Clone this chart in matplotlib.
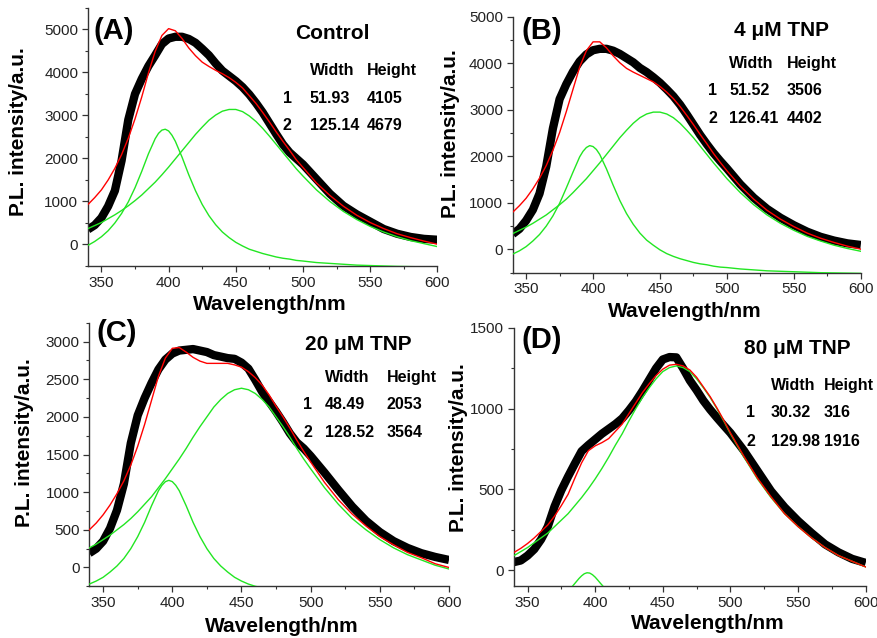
import matplotlib
matplotlib.use('Agg')
import matplotlib.pyplot as plt
from matplotlib.ticker import MultipleLocator

plt.rcParams['font.family'] = ['Liberation Sans', 'DejaVu Sans']

# wavelength grid (nm) shared by the spectra, the fits and the broad components
wl = [340, 345, 350, 355, 360, 365, 370, 375, 380, 385, 390, 395, 400, 405, 410,
      415, 420, 425, 430, 435, 440, 445, 450, 455, 460, 465, 470, 475, 480, 485,
      490, 495, 500, 510, 520, 530, 540, 550, 560, 570, 580, 590, 600]
# grid for the narrow components (a bit denser around the peak)
wl_narrow = [340, 345, 350, 355, 360, 365, 370, 375, 380, 385, 390, 392.5, 395, 397.5, 400,
             402.5, 405, 410, 415, 420, 425, 430, 435, 440, 445, 450, 455, 460, 465, 470,
             475, 480, 485, 490, 495, 500, 510, 520, 530, 540, 550, 560, 570, 580, 590, 600]

# (A) Control
data_a = [350, 450, 620, 890, 1250, 1950, 2900, 3500, 3850, 4150, 4400, 4660, 4790, 4830, 4830,
          4780, 4690, 4550, 4400, 4210, 4040, 3920, 3800, 3660, 3490, 3290, 3070, 2820, 2570, 2330,
          2140, 2000, 1860, 1520, 1180, 900, 700, 530, 360, 250, 175, 130, 110]
fit_a = [930, 1090, 1270, 1500, 1770, 2090, 2470, 2920, 3430, 3990, 4490, 4860, 5020, 4970, 4790,
         4570, 4390, 4240, 4140, 4050, 3970, 3880, 3770, 3640, 3460, 3280, 3070, 2850, 2620, 2400,
         2190, 1970, 1790, 1430, 1140, 890, 680, 510, 370, 250, 160, 80, 5]
peak1_a = [-20, 70, 180, 320, 500, 720, 990, 1320, 1700, 2110, 2460, 2585, 2660, 2680, 2640,
           2540, 2400, 2030, 1620, 1250, 930, 670, 460, 290, 160, 50, -35, -110, -160, -210,
           -250, -290, -320, -340, -370, -385, -420, -440, -460, -480, -490, -500, -510, -515,
           -520, -525]
peak2_a = [370, 440, 510, 600, 690, 790, 900, 1020, 1150, 1300, 1450, 1620, 1800, 1990, 2180,
           2370, 2560, 2730, 2890, 3010, 3100, 3140, 3140, 3090, 2990, 2860, 2700, 2520, 2330, 2140,
           1950, 1760, 1590, 1270, 1000, 770, 580, 420, 290, 180, 90, 20, -50]

# (B) 4 uM TNP
data_b = [330, 440, 620, 850, 1200, 1780, 2600, 3230, 3550, 3820, 4040, 4190, 4280, 4310, 4310,
          4270, 4200, 4110, 4020, 3900, 3810, 3700, 3580, 3440, 3290, 3110, 2900, 2680, 2460, 2260,
          2070, 1900, 1740, 1400, 1110, 870, 680, 520, 380, 270, 190, 130, 95]
fit_b = [800, 940, 1100, 1300, 1530, 1800, 2130, 2510, 2960, 3440, 3920, 4270, 4460, 4460, 4330,
         4160, 4010, 3890, 3810, 3740, 3670, 3600, 3500, 3380, 3240, 3070, 2880, 2680, 2470, 2270,
         2060, 1870, 1690, 1360, 1080, 840, 650, 490, 350, 240, 150, 70, 5]
peak1_b = [-100, -30, 60, 180, 320, 500, 720, 990, 1320, 1660, 1990, 2108, 2190, 2230, 2210,
           2147, 2040, 1730, 1380, 1050, 770, 540, 350, 200, 90, -10, -90, -150, -200, -240,
           -280, -310, -330, -360, -380, -390, -420, -440, -460, -470, -480, -490, -500, -505,
           -510, -515]
peak2_b = [340, 410, 480, 560, 650, 740, 850, 960, 1080, 1220, 1370, 1520, 1690, 1860, 2040,
           2220, 2400, 2560, 2710, 2830, 2910, 2950, 2950, 2910, 2830, 2710, 2560, 2400, 2220, 2040,
           1860, 1690, 1520, 1220, 960, 740, 560, 410, 280, 180, 90, 20, -40]

# (C) 20 uM TNP
data_c = [190, 250, 350, 520, 760, 1110, 1650, 2020, 2250, 2450, 2630, 2760, 2840, 2880, 2890,
          2900, 2880, 2860, 2820, 2800, 2780, 2770, 2720, 2640, 2490, 2330, 2200, 2070, 1930, 1780,
          1660, 1580, 1480, 1260, 1030, 810, 620, 470, 350, 260, 190, 140, 100]
fit_c = [500, 590, 700, 830, 980, 1150, 1360, 1610, 1900, 2220, 2540, 2780, 2910, 2920, 2860,
         2790, 2740, 2710, 2710, 2710, 2710, 2690, 2660, 2600, 2520, 2420, 2290, 2140, 2000, 1850,
         1690, 1540, 1400, 1130, 900, 710, 550, 410, 300, 200, 130, 50, 0]
peak1_c = [-220, -180, -130, -60, 20, 120, 250, 410, 600, 820, 1020, 1091, 1140, 1157, 1140,
           1091, 1020, 820, 600, 410, 250, 120, 20, -60, -130, -180, -220, -250, -270, -300,
           -320, -330, -345, -355, -365, -375, -390, -400, -405, -413, -420, -425, -430, -433,
           -436, -437]
peak2_c = [260, 310, 370, 430, 500, 570, 650, 740, 840, 940, 1060, 1180, 1310, 1440, 1580,
           1730, 1870, 2000, 2130, 2230, 2310, 2360, 2380, 2360, 2310, 2230, 2130, 2000, 1870, 1730,
           1580, 1440, 1310, 1060, 840, 650, 500, 370, 260, 170, 100, 30, -20]

# (D) 80 uM TNP
data_d = [50, 60, 90, 130, 190, 270, 395, 495, 580, 660, 737, 775, 810, 845, 875,
          905, 940, 990, 1045, 1110, 1180, 1250, 1305, 1320, 1318, 1250, 1175, 1115, 1050, 995,
          945, 897, 850, 740, 615, 490, 390, 305, 230, 160, 110, 70, 45]
fit_d = [110, 135, 165, 200, 240, 280, 335, 400, 470, 570, 665, 740, 770, 790, 815,
         860, 905, 970, 1035, 1100, 1155, 1205, 1245, 1270, 1275, 1265, 1240, 1195, 1135, 1075,
         1005, 930, 850, 705, 570, 455, 350, 270, 200, 140, 90, 55, 20]
wl_peak1_d = [376, 378, 380, 382, 384, 386, 388, 390, 392, 394, 396, 398, 400, 402, 404,
              406, 408, 410, 412, 414]
peak1_d = [-156, -143, -128, -111, -92, -72, -52, -35, -22, -16, -18, -28, -43, -62, -82,
           -101, -120, -136, -150, -162]
peak2_d = [90, 115, 140, 170, 200, 230, 270, 310, 350, 400, 450, 505, 565, 630, 700,
           775, 845, 925, 1000, 1070, 1130, 1185, 1230, 1255, 1265, 1255, 1230, 1185, 1130, 1070,
           1000, 925, 845, 700, 565, 450, 350, 270, 200, 140, 90, 55, 20]

# fit tables
labels = ['(A)', '(B)', '(C)', '(D)']
titles = ['Control', '4 \u03bcM TNP', '20 \u03bcM TNP', '80 \u03bcM TNP']
widths = [['51.93', '125.14'], ['51.52', '126.41'], ['48.49', '128.52'], ['30.32', '129.98']]
heights = [['4105', '4679'], ['3506', '4402'], ['2053', '3564'], ['316', '1916']]

GREEN = '#22e622'
fig = plt.figure(figsize=(8.78, 6.38), dpi=100)

panels = [
    dict(rect=[0.1002, 0.5831, 0.398, 0.4044], data=data_a, fit=fit_a, p1x=wl_narrow, p1=peak1_a,
         p2=peak2_a, ylim=(-500, 5500), major=1000, minor=500,
         ylab=(-0.2, 0.52), xlab=(0.521, -0.151), let=(0.017, 0.911), tit=(0.592, 0.903),
         cols=(0.558, 0.635, 0.797), rows=(0.756, 0.651, 0.543)),
    dict(rect=[0.584, 0.5726, 0.3964, 0.4012], data=data_b, fit=fit_b, p1x=wl_narrow, p1=peak1_b,
         p2=peak2_b, ylim=(-500, 5000), major=1000, minor=500,
         ylab=(-0.18, 0.544), xlab=(0.495, -0.152), let=(0.026, 0.945), tit=(0.637, 0.945),
         cols=(0.562, 0.622, 0.787), rows=(0.818, 0.711, 0.603)),
    dict(rect=[0.1017, 0.081, 0.4097, 0.4132], data=data_c, fit=fit_c, p1x=wl_narrow, p1=peak1_c,
         p2=peak2_c, ylim=(-250, 3250), major=500, minor=250,
         ylab=(-0.179, 0.545), xlab=(0.535, -0.151), let=(0.02, 0.961), tit=(0.6, 0.919),
         cols=(0.595, 0.655, 0.827), rows=(0.793, 0.689, 0.584)),
    dict(rect=[0.5854, 0.081, 0.4006, 0.4049], data=data_d, fit=fit_d, p1x=wl_peak1_d, p1=peak1_d,
         p2=peak2_d, ylim=(-100, 1500), major=500, minor=250,
         ylab=(-0.158, 0.535), xlab=(0.55, -0.142), let=(0.02, 0.955), tit=(0.654, 0.922),
         cols=(0.66, 0.73, 0.88), rows=(0.777, 0.671, 0.56)),
]

for i, p in enumerate(panels):
    ax = fig.add_axes(p['rect'])
    # measured spectrum, then the Lorentzian components and the total fit
    ax.plot(wl, p['data'], color='black', lw=6, solid_joinstyle='round',
            solid_capstyle='butt', zorder=2)
    ax.plot(p['p1x'], p['p1'], color=GREEN, lw=1.0, zorder=3)
    ax.plot(wl, p['p2'], color=GREEN, lw=1.0, zorder=3)
    ax.plot(wl, p['fit'], color='red', lw=1.0, zorder=4)

    ax.set_xlim(340, 600)
    ax.set_ylim(*p['ylim'])
    ax.xaxis.set_major_locator(MultipleLocator(50))
    ax.xaxis.set_minor_locator(MultipleLocator(25))
    ax.yaxis.set_major_locator(MultipleLocator(p['major']))
    ax.yaxis.set_minor_locator(MultipleLocator(p['minor']))
    ax.set_yticks([t for t in ax.get_yticks() if 0 <= t <= p['ylim'][1]])
    ax.set_ylim(*p['ylim'])
    for s in ['top', 'right']:
        ax.spines[s].set_visible(False)
    for s in ['left', 'bottom']:
        ax.spines[s].set_linewidth(1.0)
        ax.spines[s].set_color('#333333')
    ax.tick_params(which='major', direction='out', length=4, width=0.9, labelsize=11,
                   pad=3, colors='#333333', labelcolor='#222222')
    ax.tick_params(which='minor', direction='out', length=2.5, width=0.8, colors='#333333')

    ax.set_xlabel('Wavelength/nm', fontsize=15, fontweight='bold')
    ax.set_ylabel('P.L. intensity/a.u.', fontsize=15, fontweight='bold')
    ax.xaxis.label.set_verticalalignment('center')
    ax.yaxis.label.set_verticalalignment('center')
    ax.xaxis.set_label_coords(*p['xlab'])
    ax.yaxis.set_label_coords(*p['ylab'])

    ax.text(p['let'][0], p['let'][1], labels[i], transform=ax.transAxes, fontsize=21,
            fontweight='bold', va='center', ha='left')
    ax.text(p['tit'][0], p['tit'][1], titles[i], transform=ax.transAxes, fontsize=15,
            fontweight='bold', va='center', ha='left')
    c0, c1, c2 = p['cols']
    r0, r1, r2 = p['rows']
    kw = dict(transform=ax.transAxes, fontsize=11.5, fontweight='bold', va='center', ha='left')
    ax.text(c1, r0, 'Width', **kw)
    ax.text(c2, r0, 'Height', **kw)
    for k, r in enumerate([r1, r2]):
        ax.text(c0, r, str(k + 1), **kw)
        ax.text(c1, r, widths[i][k], **kw)
        ax.text(c2, r, heights[i][k], **kw)

fig.savefig('out.png', dpi=100)
